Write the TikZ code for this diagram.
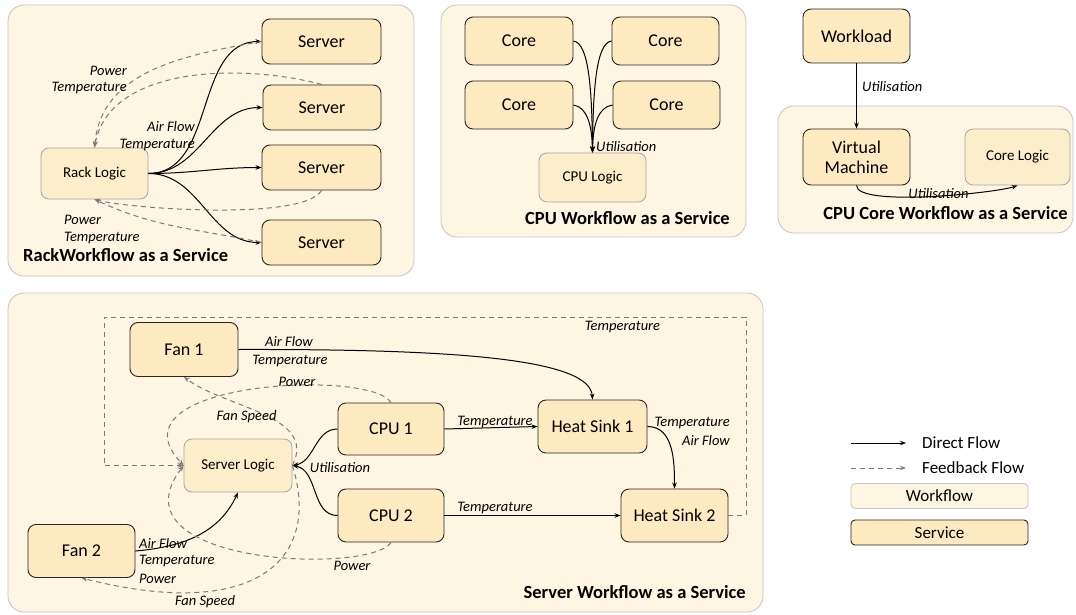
\documentclass[tikz,border=0pt]{standalone}
\usepackage{fontspec}
\setmainfont{Carlito}
\usetikzlibrary{arrows.meta}
\definecolor{wfill}{HTML}{FEF6E2}
\definecolor{sfill}{HTML}{FDEAC0}
\definecolor{lfill}{HTML}{FCEDCB}
\definecolor{pborder}{HTML}{C4C4C4}
\definecolor{fbgray}{HTML}{7A7A7A}
\begin{document}
\begin{tikzpicture}[x=1pt,y=-1pt,
  panel/.style={draw=pborder, fill=wfill, rounded corners=16pt, line width=0.8pt},
  svc/.style={draw=black!85, fill=sfill, rounded corners=8pt, line width=0.9pt,
    font=\fontsize{18}{20}\selectfont, align=center, inner sep=0pt},
  logic/.style={draw=gray!70, fill=lfill, rounded corners=8pt, line width=0.8pt,
    font=\fontsize{15}{17}\selectfont, inner sep=0pt},
  lbl/.style={font=\itshape\fontsize{14.5}{16}\selectfont, inner sep=0pt},
  ttl/.style={font=\bfseries\fontsize{18.5}{20}\selectfont, inner sep=0pt},
  leg/.style={font=\fontsize{17}{19}\selectfont, inner sep=0pt},
  direct/.style={-{Stealth[length=6pt,width=4.5pt]}, line width=1pt, black},
  fb/.style={-{Stealth[length=6pt,width=4.5pt]}, line width=1pt, draw=fbgray,
    dash pattern=on 5pt off 4pt}
]
\useasboundingbox (0,0) rectangle (1076,615);
\fill[white] (0,0) rectangle (1076,615);

% ---------- panels ----------
\draw[panel] (8,5) rectangle (414,276);
\draw[panel] (441,5) rectangle (746,237);
\draw[panel] (778,106) rectangle (1073,233);
\draw[panel] (8,293) rectangle (763,612);

% ---------- Rack workflow ----------
\node[svc, minimum width=119pt, minimum height=45pt] (s1) at (321.5,41.5) {Server};
\node[svc, minimum width=118pt, minimum height=45pt] (s2) at (322,107.5) {Server};
\node[svc, minimum width=119pt, minimum height=45pt] (s3) at (321.5,167.5) {Server};
\node[svc, minimum width=119pt, minimum height=45pt] (s4) at (321.5,242.5) {Server};
\node[logic, minimum width=107pt, minimum height=51pt] (rl) at (94.5,173.5) {Rack Logic};

\draw[direct] (rl.east) to[out=0,in=180] (s1.west);
\draw[direct] (rl.east) to[out=0,in=180] (s2.west);
\draw[direct] (rl.east) to[out=0,in=180] (s3.west);
\draw[direct] (rl.east) to[out=0,in=180] (s4.west);

\draw[fb] (s1.west) to[out=190,in=85] (rl.north);
\draw[fb] (s2.north) to[out=165,in=80,looseness=0.9] (rl.north);
\draw[fb] (s3.south) to[out=-120,in=-15,looseness=0.4] (rl.south);
\draw[fb] (s4.west) to[out=168,in=-25] (rl.south);

\node[lbl, anchor=east] (rlp1) at (127,71) {Power};
\node[lbl, anchor=east] (rlt1) at (127,88) {Temperature};
\node[lbl, anchor=east] (rla) at (195,127) {Air Flow};
\node[lbl, anchor=east] (rlt2) at (195,145) {Temperature};
\node[lbl, anchor=west] (rlp2) at (64,220) {Power};
\node[lbl, anchor=west] (rlt3) at (64,238) {Temperature};
\node[ttl, anchor=west] (rtitle) at (23,255) {RackWorkflow as a Service};

% ---------- CPU workflow ----------
\node[svc, minimum width=108pt, minimum height=48pt] (c1) at (519,41) {Core};
\node[svc, minimum width=107pt, minimum height=48pt] (c2) at (665.5,41) {Core};
\node[svc, minimum width=108pt, minimum height=48pt] (c3) at (519,105) {Core};
\node[svc, minimum width=107pt, minimum height=48pt] (c4) at (666.5,105) {Core};
\node[logic, minimum width=107pt, minimum height=49pt] (cl) at (592.5,177.5) {CPU Logic};

\draw[direct] (c1.east) .. controls (589,43) and (592,90) .. (cl.north);
\draw[direct] (c2.west) .. controls (596,43) and (593,90) .. (cl.north);
\draw[direct] (c3.east) .. controls (587,107) and (592,125) .. (cl.north);
\draw[direct] (c4.west) .. controls (598,107) and (593,125) .. (cl.north);
\node[lbl, anchor=west] (cu) at (596,147) {Utilisation};
\node[ttl] (ctitle) at (627.5,218) {CPU Workflow as a Service};

% ---------- CPU Core workflow ----------
\node[svc, minimum width=107pt, minimum height=54pt] (wl) at (856.5,36) {Workload};
\node[svc, minimum width=107pt, minimum height=56pt] (vm) at (856.5,157) {Virtual\\Machine};
\node[logic, minimum width=105pt, minimum height=56pt] (col) at (1017.5,157) {Core Logic};
\draw[direct] (wl.south) -- (vm.north);
\draw[direct] (vm.south) to[out=-90,in=-160,looseness=0.35] (col.south);
\node[lbl, anchor=west] (wu) at (862,87) {Utilisation};
\node[lbl] (vu) at (938.5,194) {Utilisation};
\node[ttl] (cctitle) at (945.5,213) {CPU Core Workflow as a Service};

% ---------- Server workflow ----------
\node[svc, minimum width=108pt, minimum height=54pt] (f1) at (184,349.5) {Fan 1};
\node[svc, minimum width=107pt, minimum height=53pt] (f2) at (81.5,551) {Fan 2};
\node[logic, minimum width=108pt, minimum height=53pt] (sl) at (238,465.5) {Server Logic};
\node[svc, minimum width=106pt, minimum height=52pt] (cpu1) at (391,429) {CPU 1};
\node[svc, minimum width=106pt, minimum height=53pt] (cpu2) at (391,515.5) {CPU 2};
\node[svc, minimum width=109pt, minimum height=53pt] (hs1) at (592.5,426.5) {Heat Sink 1};
\node[svc, minimum width=107pt, minimum height=53pt] (hs2) at (674.5,515.5) {Heat Sink 2};

\coordinate (tr) at (746,317);
\coordinate (tl) at (104,317);
\draw[fb] (hs2.east) -| (tr) -- (tl) |- (sl.west);
\node[lbl] (tt) at (622.5,327) {Temperature};

\draw[direct] (f1.east) .. controls (450,349) and (590,358) .. (hs1.north);
\node[lbl] (fa) at (289,342) {Air Flow};
\node[lbl] (ft) at (290,361) {Temperature};

\draw[direct] (cpu1.east) -- (hs1.west);
\node[lbl] (c1t) at (495,422) {Temperature};
\draw[direct] (cpu2.east) -- (hs2.west);
\node[lbl] (c2t) at (495,508) {Temperature};

\draw[direct] (hs1.east) to[out=0,in=90] (hs2.north);
\node[lbl, anchor=east] (ht) at (730,423) {Temperature};
\node[lbl, anchor=east] (ha) at (730,441) {Air Flow};

\draw[direct] (cpu1.west) to[out=180,in=10] (sl.east);
\draw[direct] (cpu2.west) to[out=180,in=-10] (sl.east);
\node[lbl] (su) at (340,468) {Utilisation};

\draw[direct] (f2.east) to[out=5,in=-115] (sl.south);
\node[lbl, anchor=west] (f2a) at (139,544) {Air Flow};
\node[lbl, anchor=west] (f2t) at (139,561) {Temperature};
\node[lbl, anchor=west] (f2p) at (139,579) {Power};

% feedback loops
\draw[fb] (cpu1.north) .. controls (370,368) and (105,382) .. (sl.west);
\node[lbl] (p1) at (297,382) {Power};
\draw[fb] (sl.east) .. controls (318,415) and (225,408) .. (f1.south);
\node[lbl] (fs1) at (246.5,417) {Fan Speed};
\draw[fb] (cpu2.south) .. controls (370,575) and (108,565) .. (sl.west);
\node[lbl] (p2) at (352,566) {Power};
\draw[fb] (sl.east) .. controls (322,560) and (255,622) .. (f2.south);
\node[lbl] (fs2) at (205,602) {Fan Speed};

\node[ttl, anchor=east] (stitle) at (746,592) {Server Workflow as a Service};

% ---------- Legend ----------
\coordinate (d1) at (851,443);
\coordinate (d2) at (906,443);
\coordinate (e1) at (851,468);
\coordinate (e2) at (906,468);
\draw[direct] (d1) -- (d2);
\draw[fb] (e1) -- (e2);
\node[leg, anchor=west] (ld) at (922,443) {Direct Flow};
\node[leg, anchor=west] (le) at (922,468) {Feedback Flow};
\node[draw=pborder, fill=wfill, rounded corners=4pt, line width=0.8pt,
  minimum width=177pt, minimum height=25pt, leg] (lw) at (939.5,496) {Workflow};
\node[draw=black!85, fill=sfill, rounded corners=4pt, line width=0.9pt,
  minimum width=177pt, minimum height=25pt, leg] (ls) at (939.5,532.5) {Service};
\end{tikzpicture}
\end{document}
